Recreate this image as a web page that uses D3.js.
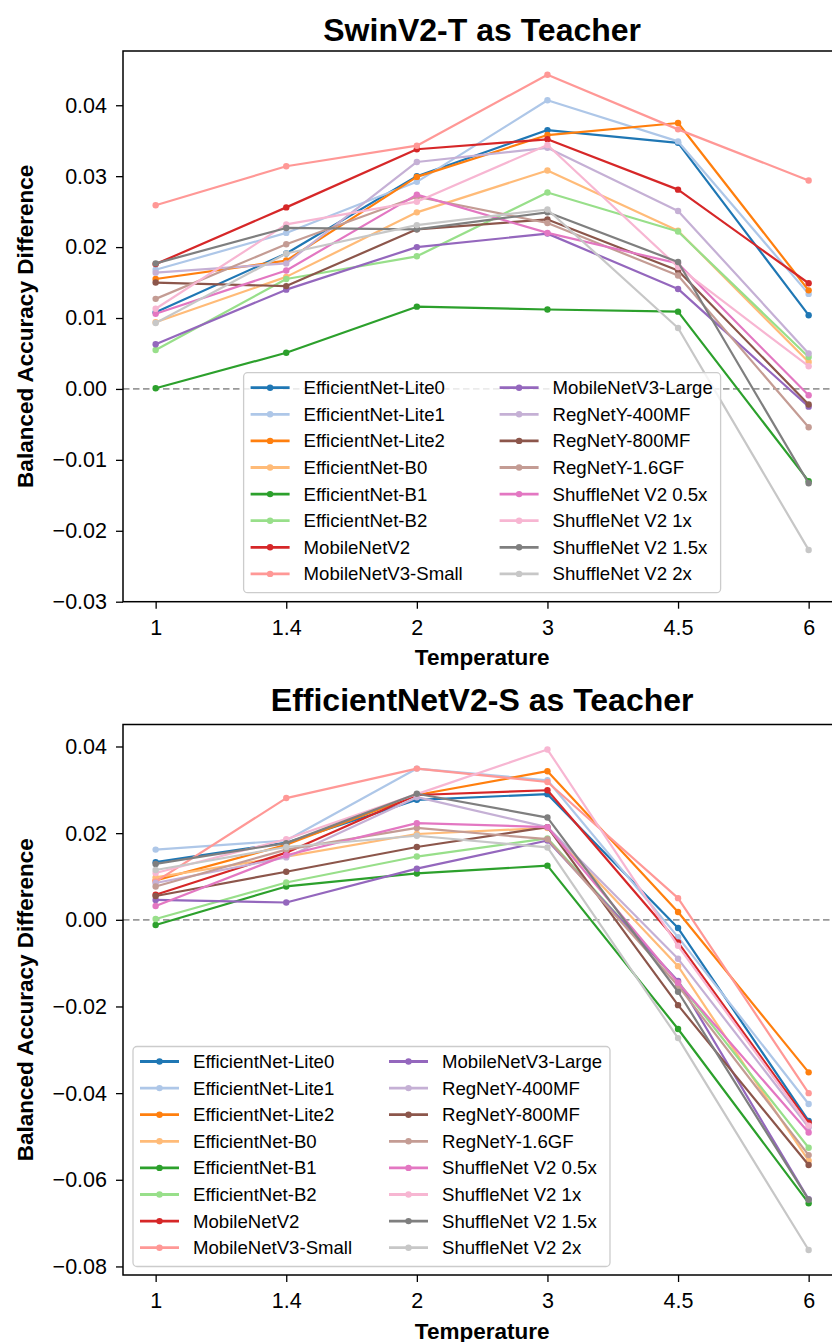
<!DOCTYPE html>
<html>
<head>
<meta charset="utf-8">
<script src="https://cdn.jsdelivr.net/npm/d3@7"></script>
<style>
  body { margin: 0; background: #fff; }
  text { font-family: "Liberation Sans", Arial, Helvetica, sans-serif; fill: #000; }
</style>
</head>
<body>
<div id="chart"></div>
<script>
// temperatures on the x axis and the student models
var temps = ["1", "1.4", "2", "3", "4.5", "6"];
var models = ["EfficientNet-Lite0", "EfficientNet-Lite1", "EfficientNet-Lite2", "EfficientNet-B0",
  "EfficientNet-B1", "EfficientNet-B2", "MobileNetV2", "MobileNetV3-Small",
  "MobileNetV3-Large", "RegNetY-400MF", "RegNetY-800MF", "RegNetY-1.6GF",
  "ShuffleNet V2 0.5x", "ShuffleNet V2 1x", "ShuffleNet V2 1.5x", "ShuffleNet V2 2x"];
var colors = ["#1f77b4", "#aec7e8", "#ff7f0e", "#ffbb78", "#2ca02c", "#98df8a", "#d62728", "#ff9896",
  "#9467bd", "#c5b0d5", "#8c564b", "#c49c94", "#e377c2", "#f7b6d2", "#7f7f7f", "#c7c7c7"];

// SwinV2-T teacher, one row per model (same order as models)
var swinValues = [
  [0.0108, 0.0191, 0.0300, 0.0365, 0.0347, 0.0104],
  [0.0168, 0.0220, 0.0292, 0.0407, 0.0349, 0.0134],
  [0.0155, 0.0181, 0.0299, 0.0358, 0.0375, 0.0139],
  [0.0094, 0.0158, 0.0249, 0.0308, 0.0223, 0.0038],
  [0.0001, 0.0051, 0.0116, 0.0112, 0.0109, -0.0130],
  [0.0055, 0.0155, 0.0187, 0.0277, 0.0222, 0.0045],
  [0.0176, 0.0256, 0.0338, 0.0352, 0.0281, 0.0149],
  [0.0259, 0.0314, 0.0343, 0.0443, 0.0366, 0.0294],
  [0.0063, 0.0140, 0.0200, 0.0219, 0.0141, -0.0025],
  [0.0164, 0.0177, 0.0320, 0.0340, 0.0251, 0.0050],
  [0.0150, 0.0145, 0.0225, 0.0239, 0.0167, -0.0022],
  [0.0127, 0.0204, 0.0271, 0.0234, 0.0160, -0.0054],
  [0.0106, 0.0167, 0.0274, 0.0220, 0.0177, -0.0009],
  [0.0113, 0.0232, 0.0264, 0.0344, 0.0172, 0.0032],
  [0.0177, 0.0227, 0.0225, 0.0249, 0.0179, -0.0133],
  [0.0093, 0.0191, 0.0231, 0.0253, 0.0086, -0.0227]
];

// EfficientNetV2-S teacher
var effValues = [
  [0.0133, 0.0178, 0.0277, 0.0290, -0.0019, -0.0464],
  [0.0162, 0.0183, 0.0349, 0.0322, -0.0040, -0.0425],
  [0.0091, 0.0173, 0.0288, 0.0343, 0.0018, -0.0352],
  [0.0098, 0.0146, 0.0198, 0.0212, -0.0107, -0.0556],
  [-0.0012, 0.0077, 0.0107, 0.0125, -0.0252, -0.0654],
  [0.0002, 0.0086, 0.0146, 0.0188, -0.0143, -0.0526],
  [0.0058, 0.0155, 0.0288, 0.0299, -0.0052, -0.0468],
  [0.0088, 0.0281, 0.0349, 0.0318, 0.0050, -0.0400],
  [0.0046, 0.0040, 0.0118, 0.0183, -0.0141, -0.0645],
  [0.0085, 0.0144, 0.0283, 0.0214, -0.0090, -0.0479],
  [0.0055, 0.0111, 0.0168, 0.0214, -0.0197, -0.0566],
  [0.0077, 0.0162, 0.0212, 0.0186, -0.0152, -0.0543],
  [0.0032, 0.0149, 0.0223, 0.0214, -0.0145, -0.0491],
  [0.0108, 0.0186, 0.0290, 0.0393, -0.0060, -0.0475],
  [0.0129, 0.0177, 0.0291, 0.0236, -0.0166, -0.0646],
  [0.0115, 0.0168, 0.0194, 0.0167, -0.0273, -0.0762]
];

var swinTicks = [-0.03, -0.02, -0.01, 0.00, 0.01, 0.02, 0.03, 0.04];
var effTicks = [-0.08, -0.06, -0.04, -0.02, 0.00, 0.02, 0.04];

var W = 832, H = 1342;
var left = 123, right = 841.3;

var svg = d3.select("#chart").append("svg")
  .attr("width", W)
  .attr("height", H);

var x = d3.scalePoint()
  .domain(temps)
  .range([left, right])
  .padding(0.25);

var fmt = d3.format(".2f");

function panel(opts) {
  var values = opts.values;
  var all = d3.merge(values);
  var lo = d3.min(all), hi = d3.max(all);
  var pad = (hi - lo) * 0.05;
  var y = d3.scaleLinear()
    .domain([opts.ymin != null ? opts.ymin : lo - pad, hi + pad])
    .range([opts.bottom, opts.top]);

  var g = svg.append("g");

  // title
  g.append("text")
    .attr("x", (left + right) / 2)
    .attr("y", opts.titleY)
    .attr("text-anchor", "middle")
    .attr("font-size", "32px")
    .attr("font-weight", "bold")
    .text(opts.title);

  // zero reference line
  g.append("line")
    .attr("x1", left).attr("x2", right)
    .attr("y1", y(0)).attr("y2", y(0))
    .attr("stroke", "#999999")
    .attr("stroke-width", 1.8)
    .attr("stroke-dasharray", "6.5,3.5");

  var line = d3.line()
    .x((d, i) => x(temps[i]))
    .y(d => y(d));

  values.forEach(function (row, k) {
    g.append("path")
      .datum(row)
      .attr("d", line)
      .attr("fill", "none")
      .attr("stroke", colors[k])
      .attr("stroke-width", 2.2)
      .attr("stroke-linejoin", "round");
    g.selectAll(null)
      .data(row)
      .join("circle")
      .attr("cx", (d, i) => x(temps[i]))
      .attr("cy", d => y(d))
      .attr("r", 3.2)
      .attr("fill", colors[k]);
  });

  // axes
  var yAxis = d3.axisLeft(y)
    .tickValues(opts.ticks)
    .tickSize(7)
    .tickPadding(9)
    .tickFormat(d => fmt(d).replace("-", "\u2212"));
  var ya = g.append("g")
    .attr("transform", `translate(${left},0)`)
    .call(yAxis);

  var xAxis = d3.axisBottom(x)
    .tickSize(7)
    .tickPadding(11);
  var xa = g.append("g")
    .attr("transform", `translate(0,${opts.bottom})`)
    .call(xAxis);

  [ya, xa].forEach(function (a) {
    a.select(".domain").remove();
    a.selectAll("line").attr("stroke", "#000").attr("stroke-width", 1.3);
    a.selectAll("text")
      .attr("font-size", "21.5px")
      .attr("font-family", "Liberation Sans, Arial, sans-serif")
      .attr("fill", "#000");
  });

  // frame
  g.append("rect")
    .attr("x", left)
    .attr("y", opts.top)
    .attr("width", right - left)
    .attr("height", opts.bottom - opts.top)
    .attr("fill", "none")
    .attr("stroke", "#000")
    .attr("stroke-width", 1.5);

  // axis labels
  g.append("text")
    .attr("x", (left + right) / 2)
    .attr("y", opts.bottom + 63.5)
    .attr("text-anchor", "middle")
    .attr("font-size", "22.5px")
    .attr("font-weight", "bold")
    .text("Temperature");

  g.append("text")
    .attr("transform", `translate(33,${(opts.top + opts.bottom) / 2}) rotate(-90)`)
    .attr("text-anchor", "middle")
    .attr("font-size", "22.5px")
    .attr("font-weight", "bold")
    .text("Balanced Accuracy Difference");

  // legend, two columns of eight
  var lg = g.append("g")
    .attr("transform", `translate(${opts.legX},${opts.legY})`);
  lg.append("rect")
    .attr("width", 477)
    .attr("height", 220)
    .attr("rx", 4)
    .attr("fill", "#fff")
    .attr("fill-opacity", 0.8)
    .attr("stroke", "#cccccc")
    .attr("stroke-width", 1.3);

  var items = lg.selectAll("g.item")
    .data(models)
    .join("g")
    .attr("class", "item")
    .attr("transform", (d, i) => `translate(${Math.floor(i / 8) * 249},${15 + (i % 8) * 26.6})`);
  items.append("line")
    .attr("x1", 7).attr("x2", 46)
    .attr("stroke", (d, i) => colors[i])
    .attr("stroke-width", 2.8);
  items.append("circle")
    .attr("cx", 26.5)
    .attr("r", 3.2)
    .attr("fill", (d, i) => colors[i]);
  items.append("text")
    .attr("x", 60)
    .attr("dy", "0.35em")
    .attr("font-size", "18.6px")
    .text(d => d);
}

panel({
  title: "SwinV2-T as Teacher",
  values: swinValues,
  ticks: swinTicks,
  ymin: -0.03,
  top: 51,
  bottom: 601.7,
  titleY: 40.5,
  legX: 243.6,
  legY: 372.7
});

panel({
  title: "EfficientNetV2-S as Teacher",
  values: effValues,
  ticks: effTicks,
  top: 724.5,
  bottom: 1275,
  titleY: 711,
  legX: 133,
  legY: 1046.5
});
</script>
</body>
</html>
